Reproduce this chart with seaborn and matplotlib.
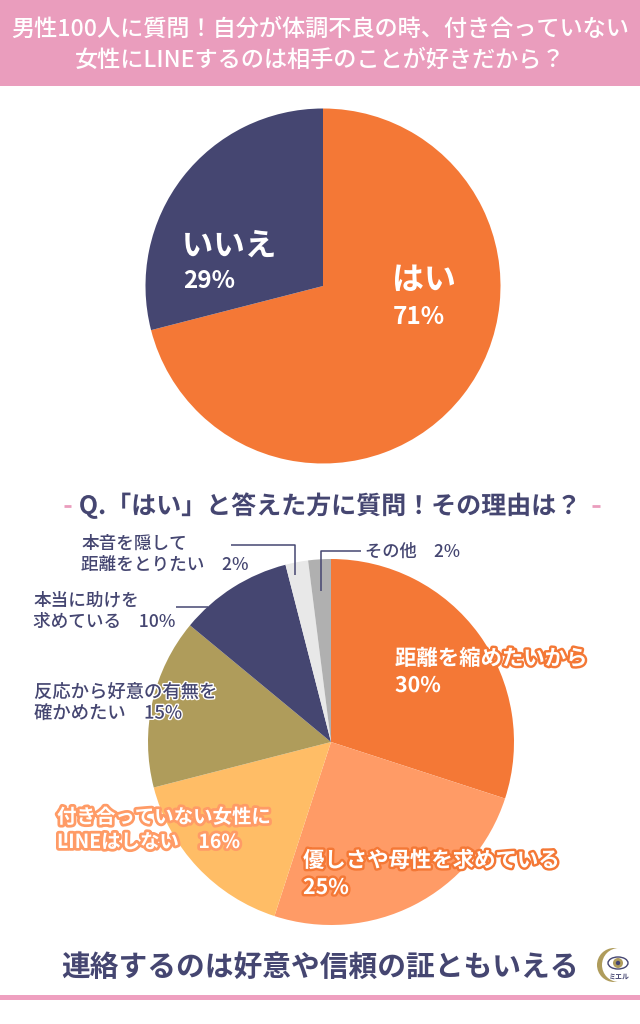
import matplotlib.pyplot as plt
import matplotlib.patheffects as pe
from matplotlib.patches import Rectangle, Circle, Ellipse
import seaborn as sns

sns.set_theme(style="white")
plt.rcParams['font.family'] = ['Noto Sans CJK JP', 'DejaVu Sans']

W = 640
H = 1024

answers = ["はい", "いいえ"]
answer_values = [71, 29]
reasons = ["距離を縮めたいから", "優しさや母性を求めている", "付き合っていない女性にLINEはしない",
           "反応から好意の有無を確かめたい", "本当に助けを求めている", "本音を隠して距離をとりたい", "その他"]
reason_values = [30, 25, 16, 15, 10, 2, 2]

PINK = "#EA9DBD"
NAVY = "#454671"
ORANGE = "#F47836"
PEACH = "#FF9B66"
GOLD = "#AF9C5B"
answer_colors = sns.color_palette([ORANGE, NAVY])
reason_colors = sns.color_palette([ORANGE, PEACH, "#FFBD66", GOLD, NAVY, "#E8E8E8", "#B0B0B0"])


def pie_axes(fig, cx, cy, r):
    # pixel centre/radius -> figure axes
    ax = fig.add_axes([(cx - r) / W, 1 - (cy + r) / H, 2 * r / W, 2 * r / H])
    return ax


def draw_pie(ax, values, colors):
    ax.pie(values, colors=colors, startangle=90, counterclock=False, radius=1, frame=True,
           wedgeprops={"linewidth": 0})
    ax.set_xlim(-1, 1)
    ax.set_ylim(-1, 1)
    ax.axis("off")


fig = plt.figure(figsize=(6.4, 10.24), dpi=100, facecolor="white")

draw_pie(pie_axes(fig, 323, 286, 177.5), answer_values, answer_colors)
draw_pie(pie_axes(fig, 331, 742, 183), reason_values, reason_colors)

# overlay in pixel coordinates for header, labels and rules
ov = fig.add_axes([0, 0, 1, 1], facecolor="none")
ov.set_xlim(0, W)
ov.set_ylim(H, 0)
ov.axis("off")

ov.add_patch(Rectangle((0, 0), W, 86, color=PINK, lw=0))
ov.add_patch(Rectangle((0, 995), W, 5, color="#EFA0C0", lw=0))


def label(x, y, s, size, color=NAVY, stroke=None, sw=3, ha="left", weight="bold"):
    # va center sits a bit high with the CJK font, hence the offset
    t = ov.text(x, y + 1.5, s, fontsize=size, color=color, ha=ha, va="center", fontweight=weight)
    if stroke:
        t.set_path_effects([pe.withStroke(linewidth=sw, foreground=stroke)])
    return t


label(320, 28, "男性100人に質問！自分が体調不良の時、付き合っていない", 16.7, "white", ha="center", weight="medium")
label(320, 59, "女性にLINEするのは相手のことが好きだから？", 16.7, "white", ha="center", weight="medium")

label(424, 279, "はい", 23, "white", ORANGE, ha="center")
label(419, 316, "71%", 17.5, "white", ha="center")
label(229, 245, "いいえ", 22.7, "white", NAVY, ha="center")
label(209, 280, "29%", 17.5, "white", ha="center")

label(330, 504, "Q.「はい」と答えた方に質問！その理由は？", 18, NAVY, "white", ha="center")
ov.plot([64, 71], [506, 506], color=PINK, lw=2, solid_capstyle="butt")
ov.plot([592, 600], [506, 506], color=PINK, lw=2, solid_capstyle="butt")

label(81, 542, "本音を隠して", 12.7, NAVY, weight="medium")
label(81, 563, "距離をとりたい　2%", 12.7, NAVY, weight="medium")
label(365, 550, "その他　2%", 12.4, NAVY, weight="medium")
label(33, 599, "本当に助けを", 12.7, NAVY, weight="medium")
label(33, 620, "求めている　10%", 12.7, NAVY, weight="medium")
label(34, 691, "反応から好意の有無を", 13.2, NAVY, "white", sw=2, weight="medium")
label(34, 712, "確かめたい　15%", 13.2, NAVY, "white", sw=2, weight="medium")
label(57, 816, "付き合っていない女性に", 14, "white", PEACH, sw=4)
label(57, 841, "LINEはしない　16%", 14, "white", PEACH, sw=4)
label(395, 657, "距離を縮めたいから", 15.4, "white", ORANGE, sw=3.5)
label(395, 684, "30%", 15.4, "white", ORANGE, sw=3.5)
label(303, 859, "優しさや母性を求めている", 15.4, "white", ORANGE, sw=3.5)
label(303, 886, "25%", 15.4, "white", ORANGE, sw=3.5)

# leader lines
ov.plot([231, 295, 295], [545, 545, 575], color=NAVY, lw=1.1, solid_capstyle="butt")
ov.plot([361, 321, 321], [551, 551, 591], color=NAVY, lw=1.1, solid_capstyle="butt")
ov.plot([176, 208], [607, 607], color=NAVY, lw=1.1, solid_capstyle="butt")

label(320, 965, "連絡するのは好意や信頼の証ともいえる", 20.7, NAVY, ha="center")

# logo
ov.add_patch(Circle((614, 965), 17, color=GOLD, lw=0))
ov.add_patch(Circle((619, 965), 17, color="white", lw=0))
ov.add_patch(Ellipse((618, 963), 20, 12, facecolor="white", edgecolor=NAVY, lw=1))
ov.add_patch(Circle((618, 963), 5, color=GOLD, lw=0))
ov.add_patch(Circle((618, 963), 2.2, color=NAVY, lw=0))
label(619, 975, "ミエル", 5, NAVY, ha="center")

fig.savefig("out.png", dpi=100)
